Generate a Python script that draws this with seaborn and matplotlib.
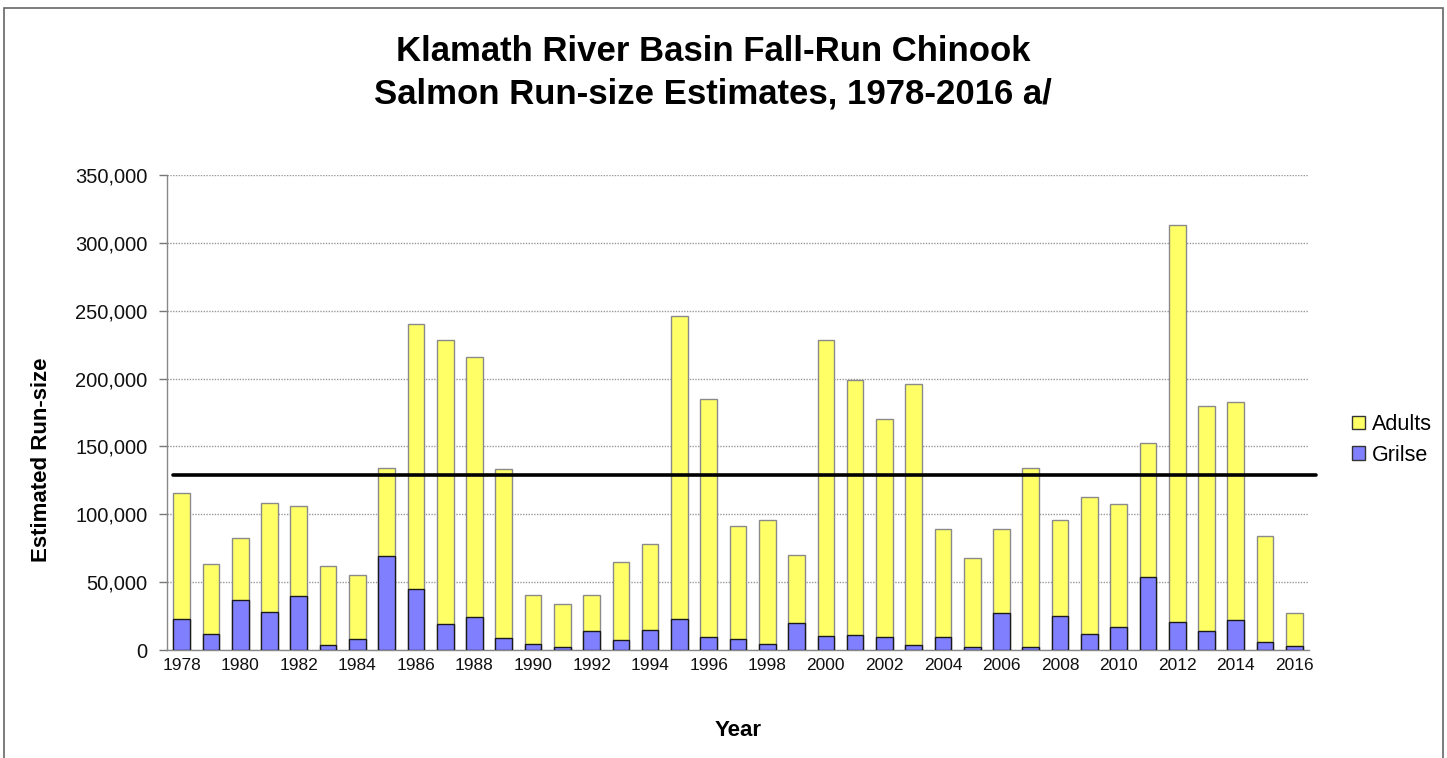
import numpy as np
import pandas as pd
import matplotlib
matplotlib.use("Agg")
import matplotlib.pyplot as plt
from matplotlib.patches import Patch, Rectangle
import seaborn as sns

# ---------------- data ----------------
years = list(range(1978, 2017))
grilse = [22800, 11800, 36800, 28200, 39500, 3700, 8100, 69500, 44700, 19200,
          24100, 9100, 4400, 2000, 14000, 7400, 14500, 22800, 9600, 8100,
          4700, 19700, 10300, 11300, 9300, 3700, 9600, 2000, 27000, 2000,
          25100, 12000, 16700, 53500, 20900, 14300, 22400, 6100, 3000]
adults = [93100, 51300, 45500, 80300, 66600, 58000, 47400, 64400, 195300, 209000,
          191500, 124000, 36100, 32100, 26500, 57200, 63600, 223300, 175600, 83500,
          90800, 50500, 217900, 187400, 160900, 192100, 79300, 65500, 61900, 131900,
          70700, 100500, 90900, 99300, 292200, 165200, 160600, 77700, 24300]
reference_level = 129000
y_ticks = [0, 50000, 100000, 150000, 200000, 250000, 300000, 350000]
title_text = "Klamath River Basin Fall-Run Chinook\nSalmon Run-size Estimates, 1978-2016 a/"
x_label = "Year"
y_label = "Estimated Run-size"
series_names = ["Adults", "Grilse"]

df = pd.DataFrame({"Year": [str(y) for y in years],
                   "Grilse": grilse, "Adults": adults})
df["Total"] = df["Grilse"] + df["Adults"]

# ---------------- style ----------------
sns.set_style("white")
plt.rcParams["font.family"] = ["Liberation Sans", "DejaVu Sans"]
plt.rcParams["text.color"] = "black"

YELLOW = "#FFFF66"
BLUE = "#8080FF"

fig = plt.figure(figsize=(14.47, 7.58), dpi=100)
W, H = 1447, 758
ax = fig.add_axes([167 / W, (H - 650) / H, (1309 - 167) / W, (650 - 175) / H])

sns.barplot(data=df, x="Year", y="Total", color=YELLOW, saturation=1,
            width=0.57, edgecolor="#8a8a8a", linewidth=1.0, ax=ax, zorder=3)
sns.barplot(data=df, x="Year", y="Grilse", color=BLUE, saturation=1,
            width=0.57, edgecolor="#1a1a1a", linewidth=1.0, ax=ax, zorder=4)

ax.set_xlim(-0.5, len(years) - 0.5)
ax.set_ylim(0, 350000)
ax.set_yticks(y_ticks)
ax.set_yticklabels([f"{v:,}" for v in y_ticks], fontsize=14.5, color="#111111")
ax.yaxis.grid(True, linestyle=(0, (1, 1)), color="#999999", linewidth=1.0, zorder=0)
ax.xaxis.grid(False)
ax.set_axisbelow(True)

# x labels every other year, tick marks on category boundaries
label_pos = list(range(0, len(years), 2))
ax.set_xticks(label_pos)
ax.set_xticklabels([str(years[i]) for i in label_pos], fontsize=12.5, color="#111111")
ax.tick_params(axis="x", which="major", length=0, pad=6)
ax.set_xticks(np.arange(-0.5, len(years), 1.0), minor=True)
ax.tick_params(axis="x", which="minor", length=7, direction="inout",
               color="#777777", width=1)
ax.tick_params(axis="y", which="major", length=6, direction="out",
               color="#777777", width=1, pad=8, left=True)

for s in ["top", "right"]:
    ax.spines[s].set_visible(False)
for s in ["left", "bottom"]:
    ax.spines[s].set_color("#888888")
    ax.spines[s].set_linewidth(1.0)

# reference level line
ax.axhline(reference_level, xmin=0.005, xmax=1.006, color="black",
           linewidth=2.6, zorder=6, clip_on=False)

ax.set_xlabel("")
ax.set_ylabel("")
fig.text(738 / W, 1 - 731 / H, x_label, ha="center", va="center",
         fontsize=16, fontweight="bold", color="black")
fig.text(42 / W, 1 - 460 / H, y_label, ha="center", va="center",
         rotation=90, fontsize=16, fontweight="bold", color="black")
fig.text(713 / W, 1 - 73 / H, title_text, ha="center", va="center",
         fontsize=25, fontweight="bold", linespacing=1.35, color="black")

handles = [Patch(facecolor=YELLOW, edgecolor="#333333", label=series_names[0]),
           Patch(facecolor=BLUE, edgecolor="#333333", label=series_names[1])]
fig.legend(handles=handles, loc="center left",
           bbox_to_anchor=(1333 / W, 1 - 440 / H), frameon=False,
           fontsize=15.5, handlelength=0.6, handleheight=0.6,
           handletextpad=0.3, labelspacing=0.45)

# outer frame
fig.patches.append(Rectangle((4 / W, -0.02), (1443 - 4) / W, 1.02 - 8 / H,
                             transform=fig.transFigure, fill=False,
                             edgecolor="#666666", linewidth=1.2))

fig.savefig("out.png", dpi=100)
